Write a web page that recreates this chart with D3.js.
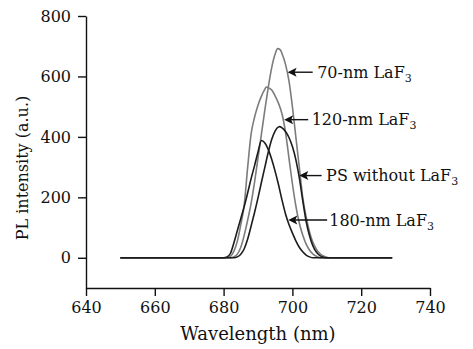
<!DOCTYPE html>
<html>
<head>
<meta charset="utf-8">
<script src="https://cdn.jsdelivr.net/npm/d3@7"></script>
<style>
    body { margin: 0; background: #fff; }
    text { font-family: "DejaVu Serif", serif; fill: #111; }
</style>
</head>
<body>
<div id="chart_div"></div>
<script>
// spectra: wavelength (nm) / PL intensity (a.u.)
const wl_70 = [650, 682, 683, 684, 685, 686, 687, 688, 689, 690, 691, 692, 693, 694, 695, 695.7, 696.5, 697, 698, 699, 700, 701, 702, 703, 704, 705, 706, 707, 708, 709, 710, 711, 729];
const pl_70 = [0, 0, 3, 12, 35, 75, 125, 180, 250, 330, 410, 490, 565, 630, 675, 692, 688, 675, 640, 585, 500, 400, 300, 200, 135, 85, 50, 28, 14, 6, 2, 0, 0];

const wl_120 = [650, 681, 682, 683, 684, 685, 686, 687, 688, 689, 690, 691, 692, 692.4, 693, 694, 695, 696, 697, 698, 699, 700, 701, 702, 703, 704, 705, 706, 707, 708, 729];
const pl_120 = [0, 0, 5, 22, 55, 110, 175, 300, 410, 465, 505, 535, 558, 565, 563, 555, 535, 510, 475, 415, 330, 245, 172, 115, 75, 45, 25, 12, 5, 0, 0];

const wl_ps = [650, 683, 684, 685, 686, 687, 688, 689, 690, 691, 692, 693, 694, 695, 696, 696.2, 697, 698, 699, 700, 701, 702, 703, 704, 705, 706, 707, 708, 709, 710, 729];
const pl_ps = [0, 0, 3, 12, 30, 62, 105, 150, 198, 250, 300, 350, 392, 420, 433, 434, 430, 418, 398, 368, 325, 265, 190, 120, 72, 38, 18, 7, 2, 0, 0];

const wl_180 = [650, 680, 681, 682, 683, 684, 685, 686, 687, 688, 689, 690, 691, 692, 693, 694, 695, 696, 697, 698, 699, 700, 701, 702, 703, 704, 705, 706, 729];
const pl_180 = [0, 0, 3, 15, 50, 90, 130, 170, 215, 262, 305, 350, 388, 380, 358, 325, 285, 240, 190, 145, 110, 82, 56, 35, 20, 9, 3, 0, 0];

const series_names = ["70-nm LaF", "120-nm LaF", "PS without LaF", "180-nm LaF"];

const x_ticks = [640, 660, 680, 700, 720, 740];
const y_ticks = [0, 200, 400, 600, 800];

let margin = {top: 16, right: 43, bottom: 61, left: 86};
let width = 473 - margin.left - margin.right;
let height = 349 - margin.top - margin.bottom;

let svg = d3.select("#chart_div")
    .append("svg")
    .attr("width", 473)
    .attr("height", 349)
    .append("g")
    .attr("transform", "translate(" + margin.left + "," + margin.top + ")");

const x = d3.scaleLinear().domain([640, 740]).range([0, width]);
const y = d3.scaleLinear().domain([-100, 800]).range([height, 0]);

let xAxis = svg.append("g")
    .attr("transform", `translate(0, ${height})`)
    .call(d3.axisBottom(x).tickValues(x_ticks).tickSize(8).tickSizeOuter(0).tickPadding(6).tickFormat(d3.format("d")));

let yAxis = svg.append("g")
    .call(d3.axisLeft(y).tickValues(y_ticks).tickSize(8).tickSizeOuter(0).tickPadding(7).tickFormat(d3.format("d")));

[xAxis, yAxis].forEach(function (a) {
    a.selectAll("path, line").attr("stroke", "#111").attr("stroke-width", 1.4);
    a.selectAll("text").style("font-family", "DejaVu Serif").style("font-size", "16px").attr("fill", "#111");
});

svg.append("text")
    .attr("text-anchor", "middle")
    .attr("x", 172)
    .attr("y", height + 52)
    .style("font-size", "18px")
    .text("Wavelength (nm)");

svg.append("text")
    .attr("text-anchor", "middle")
    .attr("transform", "rotate(-90)")
    .attr("x", -152)
    .attr("y", -58)
    .style("font-size", "16px")
    .text("PL intensity (a.u.)");

const line = d3.line()
    .x(d => x(d[0]))
    .y(d => y(d[1]))
    .curve(d3.curveMonotoneX);

// gray curves first, black on top
const curves = [
    {wl: wl_70, pl: pl_70, color: "#7c7c7c"},
    {wl: wl_120, pl: pl_120, color: "#7c7c7c"},
    {wl: wl_ps, pl: pl_ps, color: "#1c1c1c"},
    {wl: wl_180, pl: pl_180, color: "#1c1c1c"}
];

svg.selectAll("myLines")
    .data(curves)
    .join("path")
    .attr("d", d => line(d.wl.map((w, i) => [w, d.pl[i]])))
    .attr("stroke", d => d.color)
    .style("stroke-width", 1.6)
    .style("fill", "none");

// arrow annotations, in data units
const notes = [
    {tip: [698.6, 614], tail: 705.9, text: 707.2},
    {tip: [697.6, 457], tail: 704.6, text: 705.6},
    {tip: [702.0, 272], tail: 708.5, text: 709.8},
    {tip: [698.8, 125], tail: 710.1, text: 710.7}
];

notes.forEach(function (n, i) {
    let tx = x(n.tip[0]), ty = y(n.tip[1]);
    svg.append("line")
        .attr("x1", tx + 5).attr("y1", ty)
        .attr("x2", x(n.tail)).attr("y2", ty)
        .attr("stroke", "#111")
        .attr("stroke-width", 1.4);
    svg.append("path")
        .attr("d", `M${tx},${ty} L${tx + 9},${ty - 4.5} L${tx + 7},${ty} L${tx + 9},${ty + 4.5} Z`)
        .attr("fill", "#111");
    let t = svg.append("text")
        .attr("x", x(n.text))
        .attr("y", ty)
        .attr("dy", "0.36em")
        .style("font-size", "16px");
    t.append("tspan").text(series_names[i]);
    t.append("tspan").attr("dy", 4).style("font-size", "11px").text("3");
});
</script>
</body>
</html>
